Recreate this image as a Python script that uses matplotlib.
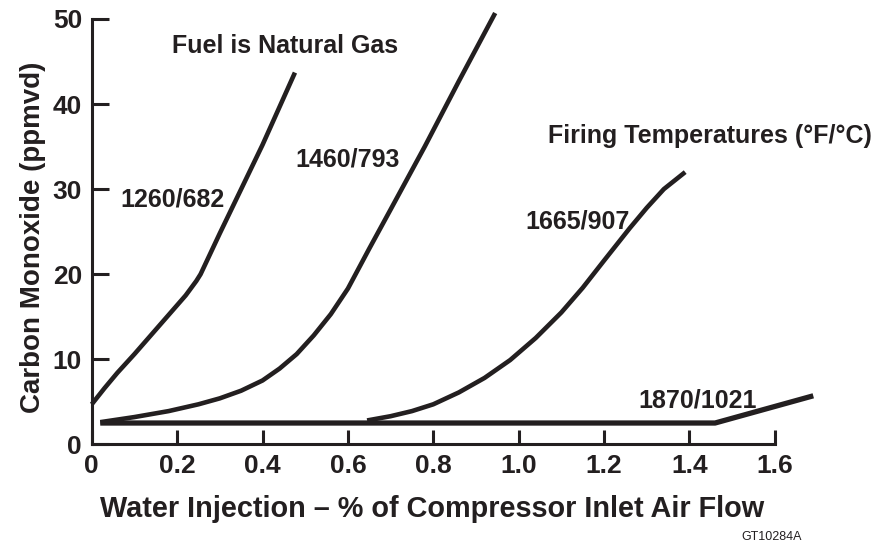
import matplotlib
matplotlib.use("Agg")
import matplotlib.pyplot as plt

plt.rcParams['font.family'] = ['Liberation Sans', 'DejaVu Sans']
plt.rcParams['font.weight'] = 'bold'
plt.rcParams['axes.labelweight'] = 'bold'

ink = "#231f20"

# CO vs water injection, one curve per firing temperature
c1260_x = [0.0, 0.03, 0.06, 0.10, 0.14, 0.18, 0.22, 0.245, 0.255, 0.27, 0.30, 0.40, 0.476]
c1260_y = [4.7, 6.6, 8.4, 10.6, 12.9, 15.2, 17.5, 19.2, 20.0, 21.6, 24.8, 35.2, 43.7]

c1460_x = [0.02, 0.10, 0.18, 0.25, 0.30, 0.35, 0.40, 0.44, 0.48, 0.52, 0.56, 0.60, 0.65, 0.70, 0.78, 0.86, 0.945]
c1460_y = [2.6, 3.2, 3.9, 4.7, 5.4, 6.3, 7.5, 8.9, 10.6, 12.8, 15.3, 18.3, 23.0, 27.6, 35.0, 42.7, 50.7]

c1665_x = [0.645, 0.70, 0.75, 0.80, 0.86, 0.92, 0.98, 1.04, 1.10, 1.15, 1.20, 1.26, 1.30, 1.34, 1.39]
c1665_y = [2.8, 3.3, 3.9, 4.7, 6.1, 7.8, 9.9, 12.5, 15.5, 18.4, 21.6, 25.4, 27.8, 30.0, 32.0]

c1870_x = [0.02, 1.46, 1.69]
c1870_y = [2.5, 2.5, 5.7]

x_ticks = [0, 0.2, 0.4, 0.6, 0.8, 1.0, 1.2, 1.4, 1.6]
x_tick_labels = ["0", "0.2", "0.4", "0.6", "0.8", "1.0", "1.2", "1.4", "1.6"]
y_ticks = [0, 10, 20, 30, 40, 50]

fig = plt.figure(figsize=(8.82, 5.46), dpi=100)
ax = fig.add_axes([0.104, 0.1863, 0.8326, 0.7945])

ax.plot(c1870_x, c1870_y, color=ink, lw=3.8, solid_capstyle='butt', clip_on=False)
for xs, ys in [(c1260_x, c1260_y), (c1460_x, c1460_y), (c1665_x, c1665_y)]:
    ax.plot(xs, ys, color=ink, lw=3.3, solid_capstyle='butt', solid_joinstyle='round', clip_on=False)

ax.set_xlim(0, 1.72)
ax.set_ylim(0, 51)

for s in ['top', 'right']:
    ax.spines[s].set_visible(False)
ax.spines['left'].set_bounds(0, 50)
ax.spines['bottom'].set_bounds(0, 1.6)
for s in ['left', 'bottom']:
    ax.spines[s].set_linewidth(2.2)
    ax.spines[s].set_color(ink)

ax.set_xticks(x_ticks)
ax.set_xticklabels(x_tick_labels)
ax.set_yticks(y_ticks)
ax.tick_params(direction='in', width=2.2, color=ink, labelcolor=ink, labelsize=19)
ax.tick_params(axis='x', length=10, pad=7)
ax.tick_params(axis='y', length=12, pad=7)

ax.set_xlabel("Water Injection – % of Compressor Inlet Air Flow", fontsize=20.8, color=ink)
ax.xaxis.set_label_coords(0.4635, -0.117)
ax.set_ylabel("Carbon Monoxide (ppmvd)", fontsize=20, color=ink)
ax.yaxis.set_label_coords(-0.062, 0.478)

ax.text(0.188, 46.0, "Fuel is Natural Gas", fontsize=18, color=ink)
ax.text(0.476, 32.6, "1460/793", fontsize=18, color=ink)
ax.text(0.066, 27.9, "1260/682", fontsize=18, color=ink)
ax.text(1.069, 35.4, "Firing Temperatures (°F/°C)", fontsize=18, color=ink)
ax.text(1.015, 25.4, "1665/907", fontsize=18, color=ink)
ax.text(1.280, 4.27, "1870/1021", fontsize=18, color=ink)

fig.text(0.841, 0.011, "GT10284A", fontsize=9, fontweight='normal', color=ink)

fig.savefig("out.png", dpi=100)
